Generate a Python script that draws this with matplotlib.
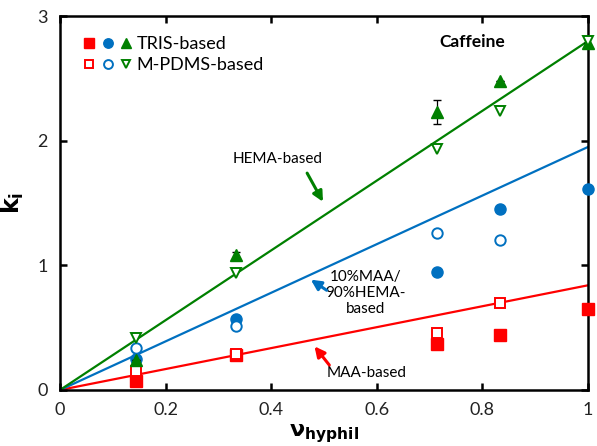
import matplotlib
matplotlib.use("Agg")
import matplotlib.pyplot as plt
from matplotlib.legend_handler import HandlerTuple
import numpy as np

plt.rcParams["font.family"] = ["Lato", "DejaVu Sans"]

# volume fraction of hydrophilic component
v_hyphil = [0.143, 0.333, 0.714, 0.833, 1.0]

# partition coefficients
tris_maa = [0.07, 0.28, 0.37, 0.44, 0.65]
pdms_maa = [0.15, 0.29, 0.455, 0.70]
tris_mix = [0.25, 0.57, 0.95, 1.45, 1.61]
pdms_mix = [0.34, 0.51, 1.26, 1.20]
tris_hema = [0.24, 1.08, 2.23, 2.48, 2.78]
tris_hema_err = [0.0, 0.03, 0.10, 0.0, 0.0]
pdms_hema = [0.42, 0.94, 1.93, 2.24, 2.80]

# fitted slopes (lines through origin)
slope_maa = 0.84
slope_mix = 1.95
slope_hema = 2.80

RED = "#ff0000"
BLUE = "#0070c0"
GREEN = "#008000"

fig = plt.figure(figsize=(5.97, 4.46), dpi=100)
ax = fig.add_axes([0.1005, 0.1256, 0.8845, 0.8384])

xl = np.array([0.0, 1.0])
ax.plot(xl, slope_maa * xl, color=RED, lw=1.6, zorder=2)
ax.plot(xl, slope_mix * xl, color=BLUE, lw=1.6, zorder=2)
ax.plot(xl, slope_hema * xl, color=GREEN, lw=1.6, zorder=2)

ms = 8
oms = 7.5
h1 = ax.plot(v_hyphil, tris_maa, "s", color=RED, ms=ms, zorder=3, clip_on=False)[0]
h2 = ax.plot(v_hyphil[:4], pdms_maa, "s", mfc="white", mec=RED, mew=1.4, ms=oms, zorder=3)[0]
h3 = ax.plot(v_hyphil, tris_mix, "o", color=BLUE, ms=ms, zorder=3, clip_on=False)[0]
h4 = ax.plot(v_hyphil[:4], pdms_mix, "o", mfc="white", mec=BLUE, mew=1.4, ms=oms, zorder=3)[0]
ax.errorbar(v_hyphil, tris_hema, yerr=tris_hema_err, fmt="none", ecolor="black",
            elinewidth=0.9, capsize=3, zorder=3)
h5 = ax.plot(v_hyphil, tris_hema, "^", color=GREEN, ms=ms, zorder=4, clip_on=False)[0]
h6 = ax.plot(v_hyphil, pdms_hema, "v", mfc="white", mec=GREEN, mew=1.4, ms=oms, zorder=4,
             clip_on=False)[0]

ax.legend([(h1, h3, h5), (h2, h4, h6)], ["TRIS-based", "M-PDMS-based"],
          handler_map={tuple: HandlerTuple(ndivide=None, pad=0.5)},
          loc="upper left", bbox_to_anchor=(0.015, 0.99), frameon=False,
          fontsize=13, handlelength=2.6, handletextpad=0.3, labelspacing=0.3,
          markerscale=0.85)

ax.text(0.78, 2.79, "Caffeine", fontsize=12.5, fontweight="bold", ha="center", va="center")

arrow = "-|>,head_width=0.3,head_length=0.6"
ax.text(0.413, 1.85, "HEMA-based", fontsize=11, ha="center", va="center")
ax.annotate("", xy=(0.498, 1.51), xytext=(0.468, 1.74),
            arrowprops=dict(arrowstyle=arrow, color=GREEN, lw=2.2, shrinkA=0, shrinkB=0))
ax.text(0.578, 0.78, "10%MAA/\n90%HEMA-\nbased", fontsize=11, ha="center", va="center",
        linespacing=1.2)
ax.annotate("", xy=(0.475, 0.885), xytext=(0.505, 0.80),
            arrowprops=dict(arrowstyle=arrow, color=BLUE, lw=2.2, shrinkA=0, shrinkB=0))
ax.text(0.58, 0.135, "MAA-based", fontsize=11, ha="center", va="center")
ax.annotate("", xy=(0.482, 0.35), xytext=(0.51, 0.20),
            arrowprops=dict(arrowstyle=arrow, color=RED, lw=2.2, shrinkA=0, shrinkB=0))

ax.set_xlim(0, 1)
ax.set_ylim(0, 3)
ax.set_xticks([0, 0.2, 0.4, 0.6, 0.8, 1])
ax.set_xticklabels(["0", "0.2", "0.4", "0.6", "0.8", "1"])
ax.set_yticks([0, 1, 2, 3])
ax.tick_params(direction="in", length=5, width=1.8, labelsize=13, pad=9,
               top=True, right=True, colors="black", labelcolor="#222222")
for s in ax.spines.values():
    s.set_linewidth(1.8)

ax.set_xlabel(r"$\mathbf{\nu}_{\mathbf{hyphil}}$", fontsize=16)
ax.xaxis.set_label_coords(0.5, -0.085)
ax.set_ylabel(r"$\mathbf{k}_{\mathbf{i}}$", fontsize=17, labelpad=8)

fig.savefig("out.png", dpi=100)
